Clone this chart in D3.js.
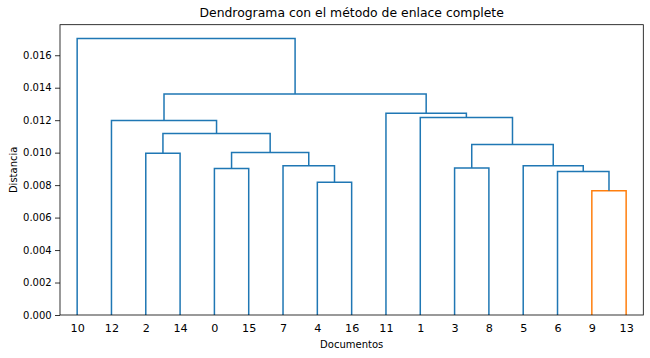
<!DOCTYPE html>
<html>
<head>
<meta charset="utf-8">
<script src="https://cdn.jsdelivr.net/npm/d3@7"></script>
<style>
  body { margin: 0; background: #fff; }
  text { font-family: "DejaVu Sans", sans-serif; fill: #000; }
</style>
</head>
<body>
<div id="chart"></div>
<script>
// Leaf order as drawn along the x axis
const leaves = ["10", "12", "2", "14", "0", "15", "7", "4", "16", "11", "1", "3", "8", "5", "6", "9", "13"];

// Merges: [left, right, height]; "cN" points to merge N
const merges = [
  ["9", "13", 0.00765],   // c0
  ["4", "16", 0.00818],   // c1
  ["6", "c0", 0.00884],   // c2
  ["0", "15", 0.00903],   // c3
  ["3", "8", 0.00905],    // c4
  ["7", "c1", 0.00919],   // c5
  ["5", "c2", 0.00919],   // c6
  ["2", "14", 0.00997],   // c7
  ["c3", "c5", 0.01001],  // c8
  ["c4", "c6", 0.0105],   // c9
  ["c7", "c8", 0.01118],  // c10
  ["12", "c10", 0.01198], // c11
  ["1", "c9", 0.01217],   // c12
  ["11", "c12", 0.01243], // c13
  ["c11", "c13", 0.01362],// c14
  ["10", "c14", 0.01703]  // c15
];

// merges drawn in the highlighted cluster colour
const orangeMerges = [0];

const yTicks = [0, 0.002, 0.004, 0.006, 0.008, 0.010, 0.012, 0.014, 0.016];

class Dendrogram {
  constructor(parentElement) {
    this.parentElement = parentElement;
    this.initVis();
  }

  initVis() {
    let vis = this;
    vis.margin = { top: 24.7, right: 6.7, bottom: 43, left: 60 };
    vis.width = 650 - vis.margin.left - vis.margin.right;
    vis.height = 358 - vis.margin.top - vis.margin.bottom;

    vis.svg = d3.select("#" + vis.parentElement)
      .append("svg")
      .attr("width", 650)
      .attr("height", 358)
      .append("g")
      .attr("transform", "translate(" + vis.margin.left + "," + vis.margin.top + ")");

    // matplotlib style: leaves at 5, 15, 25 ... on a 0..10n range
    vis.x = d3.scaleLinear().domain([0, leaves.length * 10]).range([0, vis.width]);
    const maxH = d3.max(merges, d => d[2]);
    vis.y = d3.scaleLinear().domain([0, maxH * 1.05]).range([vis.height, 0]);

    vis.updateVis();
  }

  updateVis() {
    let vis = this;

    // position of each node
    let pos = {};
    leaves.forEach((l, i) => { pos[l] = { x: 5 + 10 * i, h: 0 }; });
    let links = [];
    merges.forEach((m, i) => {
      let a = pos[m[0]], b = pos[m[1]];
      let h = m[2];
      links.push({ a: a, b: b, h: h, orange: orangeMerges.includes(i) });
      pos["c" + i] = { x: (a.x + b.x) / 2, h: h };
    });

    vis.svg.selectAll(".link")
      .data(links)
      .join("path")
      .attr("class", "link")
      .attr("fill", "none")
      .attr("stroke", d => d.orange ? "#ff7f0e" : "#1f77b4")
      .attr("stroke-width", 1.5)
      .attr("d", d =>
        "M" + vis.x(d.a.x) + "," + vis.y(d.a.h) +
        "V" + vis.y(d.h) +
        "H" + vis.x(d.b.x) +
        "V" + vis.y(d.b.h));

    // axes
    let yAxis = d3.axisLeft(vis.y).tickValues(yTicks).tickFormat(d3.format(".3f")).tickSize(5).tickPadding(3.3);
    let gy = vis.svg.append("g").call(yAxis);
    gy.select(".domain").remove();
    gy.selectAll("text").style("font-size", "10px");
    gy.selectAll("line").attr("stroke", "#000").attr("stroke-width", 0.8);

    let xAxis = d3.axisBottom(vis.x).tickValues(leaves.map((l, i) => 5 + 10 * i))
      .tickFormat((d, i) => leaves[i]).tickSize(0).tickPadding(9.5);
    let gx = vis.svg.append("g").attr("transform", "translate(0," + vis.height + ")").call(xAxis);
    gx.select(".domain").remove();
    gx.selectAll("text").style("font-size", "11.2px");

    // frame
    vis.svg.append("rect")
      .attr("width", vis.width)
      .attr("height", vis.height)
      .attr("fill", "none")
      .attr("stroke", "#000")
      .attr("stroke-width", 0.8);

    vis.svg.append("text")
      .attr("x", vis.width / 2)
      .attr("y", -7.4)
      .attr("text-anchor", "middle")
      .style("font-size", "12.4px")
      .text("Dendrograma con el método de enlace complete");

    vis.svg.append("text")
      .attr("x", vis.width / 2)
      .attr("y", vis.height + 33.3)
      .attr("text-anchor", "middle")
      .style("font-size", "10px")
      .text("Documentos");

    vis.svg.append("text")
      .attr("transform", "translate(" + (-43.3) + "," + (vis.height / 2) + ") rotate(-90)")
      .attr("text-anchor", "middle")
      .style("font-size", "10px")
      .text("Distancia");
  }
}

new Dendrogram("chart");
</script>
</body>
</html>
